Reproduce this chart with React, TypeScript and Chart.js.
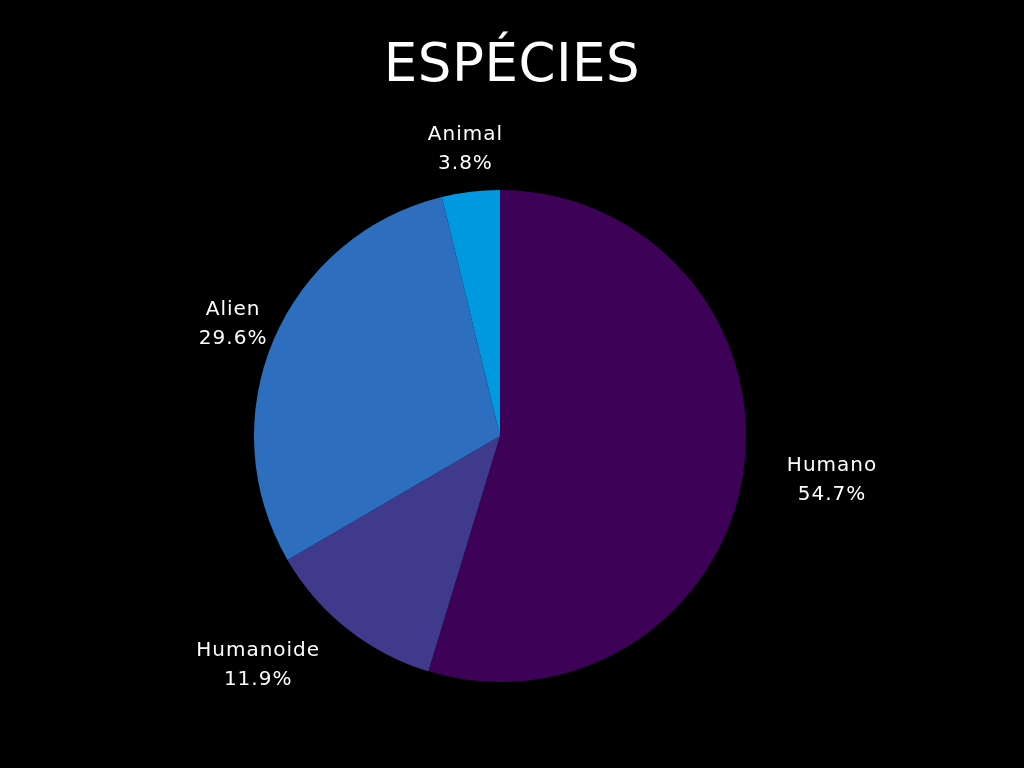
import React, { useEffect, useRef } from "react";
import { Chart, registerables } from "chart.js";

Chart.register(...registerables);

const titleText = "ESPÉCIES";
const categories = ["Humano", "Humanoide", "Alien", "Animal"];
const percentages = [54.7, 11.9, 29.6, 3.8];
const sliceColors = ["#3d0157", "#403a8d", "#2e6ebf", "#0099e0"];
const labelAlign = ["left", "right", "center", "center"];

const FONT = "'DejaVu Sans', sans-serif";
const LABEL_DIST = 290;

const labelPlugin = {
  id: "outerLabels",
  afterDraw(chart: any) {
    const ctx = chart.ctx;
    const meta = chart.getDatasetMeta(0);
    ctx.save();
    ctx.fillStyle = "#ffffff";
    ctx.font = `20px ${FONT}`;
    try { ctx.letterSpacing = "1px"; } catch (e) {}
    ctx.textBaseline = "middle";
    ctx.textAlign = "center";
    meta.data.forEach((arc: any, i: number) => {
      const mid = (arc.startAngle + arc.endAngle) / 2;
      let x = arc.x + Math.cos(mid) * LABEL_DIST;
      const y = arc.y + Math.sin(mid) * LABEL_DIST;
      const l1 = categories[i];
      const l2 = `${percentages[i].toFixed(1)}%`;
      const w = Math.max(ctx.measureText(l1).width, ctx.measureText(l2).width);
      if (labelAlign[i] === "left") x += w / 2;
      else if (labelAlign[i] === "right") x -= w / 2;
      ctx.fillText(l1, x, y - 13);
      ctx.fillText(l2, x, y + 16);
    });
    try { ctx.letterSpacing = "0.5px"; } catch (e) {}
    ctx.font = `53px ${FONT}`;
    ctx.fillText(titleText, chart.width / 2, 67);
    ctx.restore();
  },
};

export default function App() {
  const ref = useRef<HTMLCanvasElement>(null);
  useEffect(() => {
    document.body.style.margin = "0";
    document.body.style.background = "#000";
    const chart = new Chart(ref.current!, {
      type: "pie",
      data: {
        labels: categories,
        datasets: [
          {
            data: percentages,
            backgroundColor: sliceColors,
            borderWidth: 0,
          },
        ],
      },
      options: {
        responsive: false,
        animation: false,
        layout: { padding: { left: 254, right: 278, top: 190, bottom: 86 } },
        plugins: {
          legend: { display: false },
          title: { display: false },
          tooltip: { enabled: false },
        },
      },
      plugins: [labelPlugin],
    });
    return () => chart.destroy();
  }, []);
  return (
    <div style={{ width: 1024, height: 768, background: "#000" }}>
      <canvas ref={ref} width={1024} height={768} style={{ display: "block" }} />
    </div>
  );
}
